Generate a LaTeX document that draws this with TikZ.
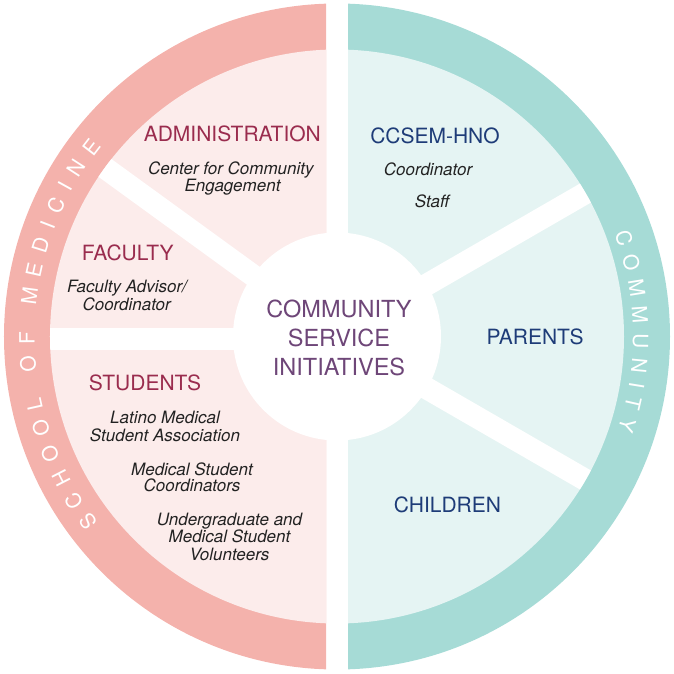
\documentclass[tikz,border=0pt]{standalone}
\usepackage{fontspec}
\setmainfont{TeX Gyre Heros}
\definecolor{pinkring}{HTML}{F4B2AC}
\definecolor{pinklight}{HTML}{FCECEB}
\definecolor{tealring}{HTML}{A6DBD6}
\definecolor{teallight}{HTML}{E5F4F3}
\definecolor{maroon}{HTML}{9A2C4E}
\definecolor{navy}{HTML}{1E3C78}
\definecolor{centerpurple}{HTML}{6E4678}
\definecolor{itgray}{HTML}{222222}
\tikzset{
  lbl/.style={anchor=base, inner sep=0pt},
  headm/.style={lbl, text=maroon, font=\fontsize{21}{25}\selectfont},
  headn/.style={lbl, text=navy, font=\fontsize{21}{25}\selectfont},
  itl/.style={lbl, text=itgray, font=\fontsize{17}{18}\selectfont\itshape},
  ctr/.style={lbl, text=centerpurple, font=\fontsize{23.5}{28}\selectfont},
  ringletter/.style={lbl, text=white, font=\fontsize{21}{24}\selectfont},
  band/.style={fill=white},
}
\begin{document}
\begin{tikzpicture}[x=1pt,y=1pt]
\useasboundingbox (-337,-336.5) rectangle (337,336.5);
% left half
\begin{scope}
  \clip (-400,-400) rectangle (-11,400);
  \fill[pinkring] (0,0) circle (333);
  \fill[pinklight] (0,0) circle (287);
\end{scope}
% right half
\begin{scope}
  \clip (11,-400) rectangle (400,400);
  \fill[tealring] (0,0) circle (333);
  \fill[teallight] (0,0) circle (287);
\end{scope}
% separating bands
\begin{scope}
  \clip (0,0) circle (287);
  \fill[band, rotate=144] (0,-11) rectangle (300,11);
  \fill[band, rotate=30] (0,-11) rectangle (300,11);
  \fill[band, rotate=-30] (0,-11) rectangle (300,11);
  \fill[band] (-300,-13.5) rectangle (0,8.5);
\end{scope}
\fill[white] (0,0) circle (104);
% ring text: SCHOOL OF MEDICINE (clockwise, left side)
\xdef\racc{0}
\foreach \ch/\w [count=\i] in {S/.667,C/.722,H/.722,O/.778,O/.778,L/.556,{}/.278,O/.778,F/.611,{}/.278,M/.833,E/.667,D/.722,I/.278,C/.722,I/.278,N/.722,E/.667} {
  \pgfmathsetmacro\rmidpos{\racc + \w*21/2}
  \pgfmathsetmacro\rang{218 - \rmidpos/306*57.29578}
  \node[ringletter, rotate=\rang-90] (sl\i) at (\rang:302.5) {\ch};
  \pgfmathsetmacro\rnew{\racc + \w*21 + 10.5}
  \xdef\racc{\rnew}
}
% ring text: COMMUNITY (clockwise, right side)
\xdef\racc{0}
\foreach \ch/\w [count=\i] in {C/.722,O/.778,M/.833,M/.833,U/.722,N/.722,I/.278,T/.611,Y/.667} {
  \pgfmathsetmacro\rmidpos{\racc + \w*21/2}
  \pgfmathsetmacro\rang{20.4 - \rmidpos/303*57.29578}
  \node[ringletter, rotate=\rang-90] (cl\i) at (\rang:296) {\ch};
  \pgfmathsetmacro\rnew{\racc + \w*21 + 9.5}
  \xdef\racc{\rnew}
}
% center
\node[ctr] (c1) at (2,19.2) {COMMUNITY};
\node[ctr] (c2) at (2,-10.2) {SERVICE};
\node[ctr] (c3) at (2,-38.5) {INITIATIVES};
% administration
\node[headm] (adm) at (-104.7,194.8) {ADMINISTRATION};
\node[itl] (adm1) at (-106.2,162.5) {Center for Community};
\node[itl] (adm2) at (-104.5,144.8) {Engagement};
% faculty
\node[headm] (fac) at (-209.2,76.5) {FACULTY};
\node[itl] (fac1) at (-210,43.8) {Faculty Advisor/};
\node[itl] (fac2) at (-210.3,26.5) {Coordinator};
% students
\node[headm] (stu) at (-192,-54.2) {STUDENTS};
\node[itl] (stu1) at (-172,-86.8) {Latino Medical};
\node[itl] (stu2) at (-172,-104.5) {Student Association};
\node[itl] (stu3) at (-145,-138.5) {Medical Student};
\node[itl] (stu4) at (-145,-155.2) {Coordinators};
\node[itl] (stu5) at (-107.5,-189.2) {Undergraduate and};
\node[itl] (stu6) at (-107.5,-206.2) {Medical Student};
\node[itl] (stu7) at (-107.5,-223.5) {Volunteers};
% community side
\node[headn] (cc) at (98,193.2) {CCSEM-HNO};
\node[itl] (cc1) at (91,161.5) {Coordinator};
\node[itl] (cc2) at (95,129.2) {Staff};
\node[headn] (par) at (198,-7.5) {PARENTS};
\node[headn] (chi) at (110.5,-176.2) {CHILDREN};
\end{tikzpicture}
\end{document}
